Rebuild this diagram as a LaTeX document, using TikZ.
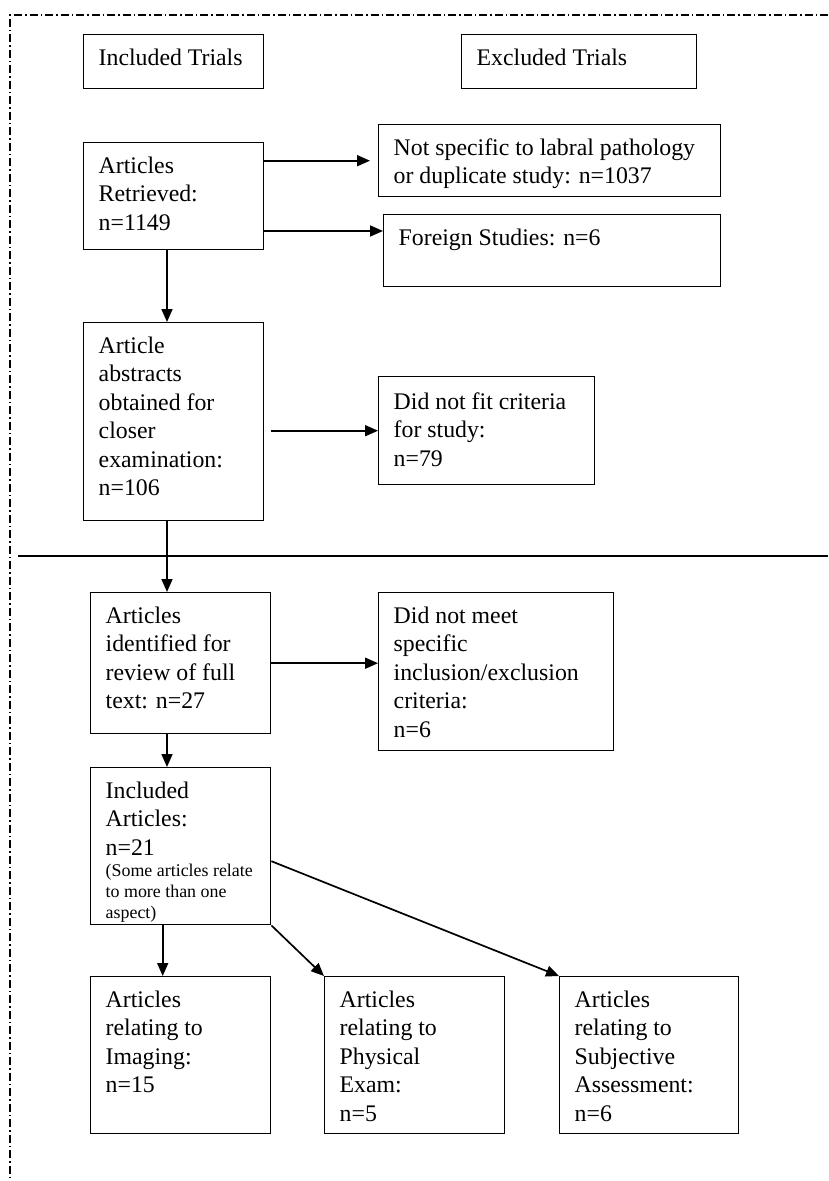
\documentclass[tikz,border=0pt]{standalone}
\usepackage{fontspec}
\setmainfont{Liberation Serif}
\usepackage{tikz}
\usetikzlibrary{arrows.meta,calc}
\tikzstyle{stage}=[draw,line width=1.4pt,anchor=north west,inner xsep=15pt,inner ysep=14pt,font=\fontsize{23.8}{28.5}\selectfont]
\tikzstyle{flow}=[line width=1.7pt,-{Triangle[length=13pt,width=11pt]}]
\tikzstyle{border}=[line width=1.2pt,dash pattern=on 8pt off 3pt on 1.5pt off 3pt]
% box text: height, width, lines
\newcommand{\boxtext}[3]{\parbox[t][#1pt][t]{#2pt}{\raggedright #3}}
\newcommand{\smalltext}{\fontsize{17.9}{21}\selectfont}

\begin{document}
\begin{tikzpicture}[x=1pt,y=-1pt]
    \useasboundingbox (0,0) rectangle (828,1181);
    \draw[border] (828,15) -- (10,15) -- (10,1181);
    \draw[line width=1.3pt] (18,556) -- (828,556);
    \coordinate (trunk) at (167,0);
%   header row
    \node[stage] (inc) at (83,34)   {\boxtext{26}{150}{Included Trials}};
    \node[stage] (exc) at (461,34)  {\boxtext{26}{205}{Excluded Trials}};
%   first screening
    \node[stage] (retr) at (83,142)  {\boxtext{79}{150}{Articles\\Retrieved:\\n=1149}};
    \node[stage] (notspec) at (378,124) {\boxtext{44}{312}{Not specific to labral pathology\\or duplicate study: n=1037}};
    \node[stage] (foreign) at (383,214) {\boxtext{44}{307}{Foreign Studies: n=6}};
    \node[stage] (abstr) at (83,322)  {\boxtext{170}{150}{Article\\abstracts\\obtained for\\closer\\examination:\\n=106}};
    \node[stage,inner ysep=16pt] (notfit) at (378,376) {\boxtext{76}{186}{Did not fit criteria\\for study:\\n=79}};
%   full text review
    \node[stage] (ident) at (90,592)  {\boxtext{113}{150}{Articles\\identified for\\review of full\\text: n=27}};
    \node[stage] (notmeet) at (378,592) {\boxtext{130}{205}{Did not meet\\specific\\inclusion/exclusion\\criteria:\\n=6}};
    \node[stage] (incart) at (90,767) {\boxtext{129}{150}{Included\\Articles:\\n=21\par{\smalltext (Some articles relate\\to more than one\\aspect)\par}}};
%   outcome boxes
    \node[stage] (imag) at (90,976)  {\boxtext{129}{150}{Articles\\relating to\\Imaging:\\n=15}};
    \node[stage] (phys) at (324,976) {\boxtext{129}{150}{Articles\\relating to\\Physical\\Exam:\\n=5}};
    \node[stage] (subj) at (559,976) {\boxtext{129}{149}{Articles\\relating to\\Subjective\\Assessment:\\n=6}};
%   connectors
    \draw[flow,shorten >=8pt] (retr.east |- notspec.west) -- (notspec.west);
    \draw[flow] ($(retr.north east)+(0,89)$) -- ($(foreign.north west)+(0,17)$);
    \draw[flow] (retr.south -| trunk) -- (abstr.north -| trunk);
    \draw[flow,shorten <=7pt] (abstr.east |- notfit.west) -- (notfit.west);
    \draw[flow] (abstr.south -| trunk) -- (ident.north -| trunk);
    \draw[flow] (ident.east) -- (ident.east -| notmeet.west);
    \draw[flow] (ident.south -| trunk) -- (incart.north -| trunk);
    \draw[flow] ($(incart.south)+(-18,0)$) -- ($(imag.north)+(-18,0)$);
    \draw[flow] (incart.south east) -- (phys.north west);
    \draw[flow] ($(incart.east)+(0,15)$) -- (subj.north west);
\end{tikzpicture}
\end{document}
